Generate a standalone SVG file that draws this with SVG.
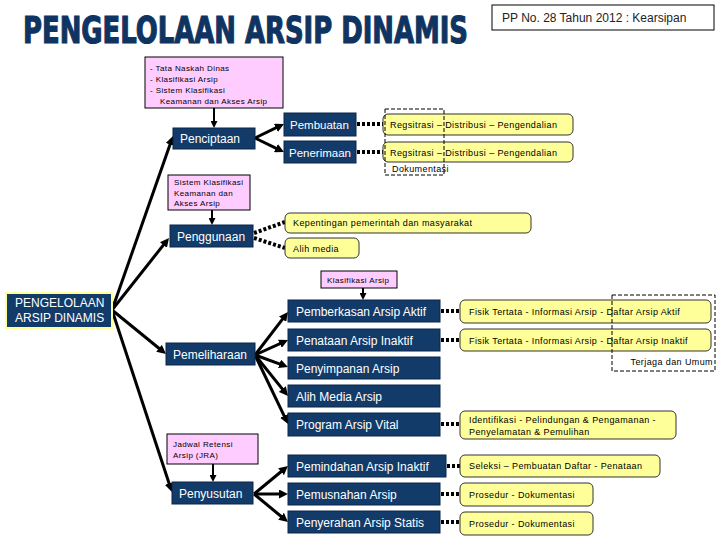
<svg xmlns="http://www.w3.org/2000/svg" width="720" height="540" viewBox="0 0 720 540">
<style>
.nv{fill:#123B69;stroke:#0A2748;stroke-width:1}
.nt{font-family:"Liberation Sans",Arial,sans-serif;font-size:12px;fill:#fff}
.pk{fill:#FFCCFF;stroke:#000;stroke-width:1}
.pt{font-family:"Liberation Sans",Arial,sans-serif;font-size:8px;letter-spacing:0.4px;fill:#000}
.yl{fill:#FFFF99;stroke:#333;stroke-width:1}
.yt{font-family:"Liberation Sans",Arial,sans-serif;font-size:9px;letter-spacing:0.4px;fill:#000}
.ar{stroke:#000;stroke-width:3;fill:none;marker-end:url(#ah)}
.ars{stroke:#000;stroke-width:2;fill:none;marker-end:url(#ahs)}
.dt{stroke:#000;stroke-width:4;stroke-dasharray:3 2;fill:none}
.ds{stroke:#000;stroke-width:1;stroke-dasharray:4 2;fill:none}
</style>
<defs>
<marker id="ah" viewBox="0 0 10 10" refX="5.56" refY="5" markerWidth="9" markerHeight="9" markerUnits="userSpaceOnUse" orient="auto"><path d="M0,0 L10,5 L0,10 z" fill="#000"/></marker>
<marker id="ahs" viewBox="0 0 10 10" refX="5.7" refY="5" markerWidth="7" markerHeight="7" markerUnits="userSpaceOnUse" orient="auto"><path d="M0,0 L10,5 L0,10 z" fill="#000"/></marker>
</defs>
<rect width="720" height="540" fill="#fff"/>

<g id="title">
<text transform="translate(23,43) scale(1,1.45)" x="0" y="0" font-family="'Liberation Sans Narrow','DejaVu Sans Condensed',sans-serif" font-weight="bold" font-size="26" fill="#0F3462" stroke="#0F3462" stroke-width="0.8" textLength="445" lengthAdjust="spacingAndGlyphs">PENGELOLAAN ARSIP DINAMIS</text>
</g>
<g id="pp">
<rect x="492" y="5" width="222" height="25" fill="#fff" stroke="#000" stroke-width="1"/>
<text x="502" y="22" font-family="'Liberation Sans',Arial,sans-serif" font-size="12" fill="#222">PP No. 28 Tahun 2012 : Kearsipan</text>
</g>

<g id="connectors">
<line class="ar" x1="112" y1="310" x2="171.7" y2="139.8"/>
<line class="ar" x1="112" y1="310" x2="166.5" y2="241.1"/>
<line class="ar" x1="112" y1="310" x2="162.9" y2="351.5"/>
<line class="ar" x1="112" y1="310" x2="170.7" y2="488.2"/>
<line class="ar" x1="255" y1="138" x2="280.4" y2="125.7"/>
<line class="ar" x1="255" y1="138" x2="280.4" y2="150.3"/>
<line class="ar" x1="255" y1="355" x2="285.6" y2="315.2"/>
<line class="ar" x1="255" y1="355" x2="284.4" y2="341.7"/>
<line class="ar" x1="255" y1="355" x2="284.2" y2="365.6"/>
<line class="ar" x1="255" y1="355" x2="285.5" y2="392.9"/>
<line class="ar" x1="255" y1="355" x2="286.3" y2="420.4"/>
<line class="ar" x1="254" y1="494" x2="284.9" y2="468.5"/>
<line class="ar" x1="254" y1="494" x2="284" y2="494"/>
<line class="ar" x1="254" y1="494" x2="284.9" y2="519.5"/>
<line class="ars" x1="214" y1="108" x2="214" y2="125"/>
<line class="ars" x1="212" y1="210" x2="212" y2="222"/>
<line class="ars" x1="363" y1="288" x2="363" y2="297"/>
<line class="ars" x1="213" y1="464" x2="213" y2="479"/>
<line class="dt" x1="357" y1="124" x2="383" y2="124"/>
<line class="dt" x1="357" y1="152" x2="383" y2="152"/>
<line class="dt" x1="254" y1="233" x2="285" y2="222"/>
<line class="dt" x1="254" y1="238" x2="285" y2="248"/>
<line class="dt" x1="441" y1="311" x2="460" y2="311"/>
<line class="dt" x1="441" y1="340" x2="460" y2="340"/>
<line class="dt" x1="441" y1="424" x2="460" y2="424"/>
<line class="dt" x1="447" y1="466" x2="460" y2="466"/>
<line class="dt" x1="441" y1="494" x2="460" y2="494"/>
<line class="dt" x1="441" y1="522" x2="460" y2="522"/>
</g>

<g id="n-root">
<rect x="6" y="293" width="106" height="35" fill="#123B69" stroke="#FFFF99" stroke-width="2"/>
<text class="nt" x="15" y="307">PENGELOLAAN</text>
<text class="nt" x="15" y="322">ARSIP DINAMIS</text>
</g>

<g id="n-pink1">
<rect class="pk" x="145" y="57" width="138" height="51"/>
<text class="pt" x="150" y="71">- Tata Naskah Dinas</text>
<text class="pt" x="150" y="82">- Klasifikasi Arsip</text>
<text class="pt" x="150" y="93">- Sistem Klasifikasi</text>
<text class="pt" x="160" y="104">Keamanan dan Akses Arsip</text>
</g>
<g id="n-penciptaan"><rect class="nv" x="173" y="128" width="82" height="21"/><text class="nt" x="180" y="143">Penciptaan</text></g>
<g id="n-pembuatan"><rect class="nv" x="284" y="113" width="72" height="23"/><text class="nt" x="290" y="129" style="font-size:11.5px">Pembuatan</text></g>
<g id="n-penerimaan"><rect class="nv" x="284" y="141" width="72" height="22"/><text class="nt" x="289" y="157" style="font-size:11.5px">Penerimaan</text></g>
<g id="n-reg1"><rect class="yl" x="383" y="114" width="190" height="21" rx="5"/><text class="yt" x="390" y="128">Regsitrasi – Distribusi – Pengendalian</text></g>
<g id="n-reg2"><rect class="yl" x="383" y="142" width="190" height="20" rx="5"/><text class="yt" x="390" y="156">Regsitrasi – Distribusi – Pengendalian</text></g>

<g id="n-pink2">
<rect class="pk" x="168" y="175" width="82" height="35"/>
<text class="pt" x="174" y="185">Sistem Klasifikasi</text>
<text class="pt" x="174" y="196">Keamanan dan</text>
<text class="pt" x="174" y="206">Akses Arsip</text>
</g>
<g id="n-penggunaan"><rect class="nv" x="170" y="225" width="83" height="22"/><text class="nt" x="177" y="241">Penggunaan</text></g>
<g id="n-kepentingan"><rect class="yl" x="285" y="213" width="246" height="20" rx="5"/><text class="yt" x="293" y="226">Kepentingan pemerintah dan masyarakat</text></g>
<g id="n-alihmedia"><rect class="yl" x="285" y="238" width="74" height="20" rx="5"/><text class="yt" x="293" y="252">Alih media</text></g>

<g id="n-pink3"><rect class="pk" x="321" y="271" width="76" height="17"/><text class="pt" x="327" y="283">Klasifikasi Arsip</text></g>
<g id="n-pemeliharaan"><rect class="nv" x="166" y="343" width="89" height="22"/><text class="nt" x="173" y="359">Pemeliharaan</text></g>
<g id="n-pemberkasan"><rect class="nv" x="288" y="300" width="152" height="22"/><text class="nt" x="296" y="316">Pemberkasan Arsip Aktif</text></g>
<g id="n-penataan"><rect class="nv" x="288" y="329" width="152" height="22"/><text class="nt" x="296" y="345">Penataan Arsip Inaktif</text></g>
<g id="n-penyimpanan"><rect class="nv" x="288" y="357" width="152" height="22"/><text class="nt" x="296" y="373">Penyimpanan Arsip</text></g>
<g id="n-alihmediaarsip"><rect class="nv" x="288" y="385" width="152" height="22"/><text class="nt" x="296" y="401">Alih Media Arsip</text></g>
<g id="n-vital"><rect class="nv" x="288" y="413" width="152" height="23"/><text class="nt" x="296" y="429">Program Arsip Vital</text></g>
<g id="n-fisik1"><rect class="yl" x="460" y="300" width="251" height="23" rx="5"/><text class="yt" x="469" y="315">Fisik Tertata - Informasi Arsip - Daftar Arsip Aktif</text></g>
<g id="n-fisik2"><rect class="yl" x="460" y="329" width="251" height="22" rx="5"/><text class="yt" x="469" y="344">Fisik Tertata - Informasi Arsip - Daftar Arsip Inaktif</text></g>
<g id="n-identifikasi"><rect class="yl" x="460" y="411" width="216" height="28" rx="5"/><text class="yt" x="469" y="423">Identifikasi - Pelindungan &amp; Pengamanan -</text><text class="yt" x="469" y="435">Penyelamatan &amp; Pemulihan</text></g>

<g id="n-pink4"><rect class="pk" x="167" y="434" width="91" height="30"/><text class="pt" x="173" y="447">Jadwal Retensi</text><text class="pt" x="173" y="458">Arsip (JRA)</text></g>
<g id="n-penyusutan"><rect class="nv" x="172" y="482" width="81" height="22"/><text class="nt" x="179" y="498">Penyusutan</text></g>
<g id="n-pemindahan"><rect class="nv" x="288" y="455" width="158" height="22"/><text class="nt" x="296" y="471">Pemindahan Arsip Inaktif</text></g>
<g id="n-pemusnahan"><rect class="nv" x="288" y="483" width="152" height="22"/><text class="nt" x="296" y="499">Pemusnahan Arsip</text></g>
<g id="n-penyerahan"><rect class="nv" x="288" y="511" width="152" height="22"/><text class="nt" x="296" y="527">Penyerahan Arsip Statis</text></g>
<g id="n-seleksi"><rect class="yl" x="460" y="455" width="200" height="22" rx="5"/><text class="yt" x="469" y="469">Seleksi – Pembuatan Daftar - Penataan</text></g>
<g id="n-prosedur1"><rect class="yl" x="460" y="483" width="133" height="23" rx="5"/><text class="yt" x="469" y="498">Prosedur - Dokumentasi</text></g>
<g id="n-prosedur2"><rect class="yl" x="460" y="512" width="133" height="23" rx="5"/><text class="yt" x="469" y="527">Prosedur - Dokumentasi</text></g>

<g id="n-dokumentasi">
<rect class="ds" x="385" y="109" width="59" height="66"/>
<text class="yt" x="392" y="172">Dokumentasi</text>
</g>
<g id="n-terjaga">
<rect class="ds" x="612" y="295" width="103" height="76"/>
<text class="yt" x="713" y="365" text-anchor="end">Terjaga dan Umum</text>
</g>
</svg>
